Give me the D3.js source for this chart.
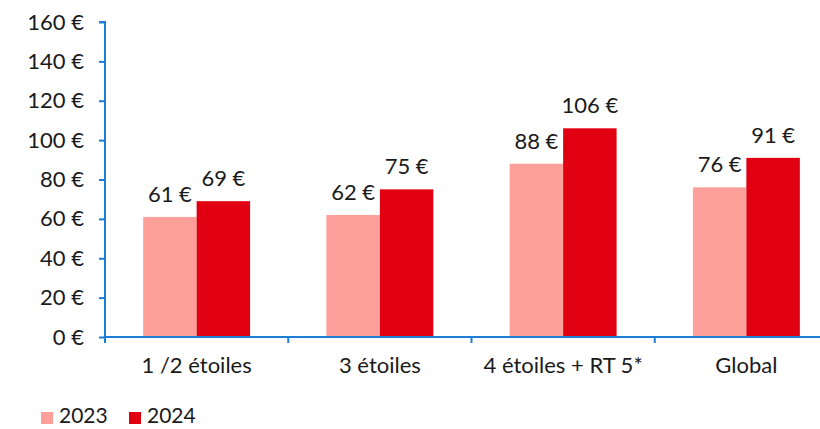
<!DOCTYPE html>
<html><head><meta charset="utf-8">
<script src="https://cdn.jsdelivr.net/npm/d3@7"></script>
<style>
html,body{margin:0;padding:0;background:#fff;}
svg{display:block;}
text{font-family:Lato,"Open Sans",sans-serif;fill:#1a1a1a;}
</style></head>
<body>
<svg id="chart" width="820" height="429"></svg>
<script>
const categories = ["1 /2 étoiles", "3 étoiles", "4 étoiles + RT 5*", "Global"];
const seriesNames = ["2023", "2024"];
const values2023 = [61, 62, 88, 76];
const values2024 = [69, 75, 106, 91];
const yTicks = [0, 20, 40, 60, 80, 100, 120, 140, 160];
const colors = ["#FF9F9A", "#E10012"];

const svg = d3.select("#chart");
const axisColor = "#1C7ED6";
const FS = 22;
const x0 = 105, x1 = 838, yTop = 22, yBase = 337;

const x = d3.scaleBand().domain(categories).range([x0, x1]).paddingInner(0).paddingOuter(0);
const xs = d3.scaleBand().domain(seriesNames).range([0, x.bandwidth()]).paddingInner(0).paddingOuter(0.7135);
const y = d3.scaleLinear().domain([0, 160]).range([yBase, yTop]);

const data = categories.map((c, i) => ({cat: c, vals: [values2023[i], values2024[i]]}));

const g = svg.append("g");
data.forEach(d => {
  d.vals.forEach((v, j) => {
    const bx = x(d.cat) + xs(seriesNames[j]);
    g.append("rect")
      .attr("x", bx).attr("y", y(v))
      .attr("width", xs.bandwidth()).attr("height", y(0) - y(v))
      .attr("fill", colors[j]);
    g.append("text")
      .attr("x", bx + xs.bandwidth() / 2)
      .attr("y", y(v) - 15)
      .attr("text-anchor", "middle")
      .attr("font-size", FS)
      .text(v + " €");
  });
});

// Y axis
const yAxis = d3.axisLeft(y).tickValues(yTicks).tickSize(6).tickPadding(15).tickFormat(d => d + " €");
const ya = svg.append("g").attr("transform", `translate(${x0},0)`).call(yAxis);
ya.select(".domain").attr("stroke", axisColor).attr("stroke-width", 2)
  .attr("d", `M-6,${yTop}H0V${yBase + 6}`);
ya.selectAll(".tick line").attr("stroke", axisColor).attr("stroke-width", 2);
ya.selectAll(".tick text").attr("font-size", FS).attr("font-family", "Lato,sans-serif").attr("fill", "#1a1a1a");

// X axis
const xAxis = d3.axisBottom(x).tickSize(0).tickPadding(20);
const xa = svg.append("g").attr("transform", `translate(0,${yBase})`).call(xAxis);
xa.select(".domain").attr("stroke", axisColor).attr("stroke-width", 2).attr("d", `M${x0},0H${x1}`);
xa.selectAll(".tick text").attr("font-size", FS).attr("font-family", "Lato,sans-serif").attr("fill", "#1a1a1a");
// boundary ticks
const bounds = categories.map(c => x(c)).concat([x1]);
xa.selectAll(".bound").data(bounds).enter().append("line")
  .attr("x1", d => d).attr("x2", d => d).attr("y1", 0).attr("y2", 6)
  .attr("stroke", axisColor).attr("stroke-width", 2);

// Legend
const legend = svg.append("g");
const legX = [41, 129];
seriesNames.forEach((s, j) => {
  legend.append("rect").attr("x", legX[j]).attr("y", 412).attr("width", 12).attr("height", 12).attr("fill", colors[j]);
  legend.append("text").attr("x", legX[j] + 18).attr("y", 423).attr("font-size", 21).text(s);
});
</script>
</body></html>
